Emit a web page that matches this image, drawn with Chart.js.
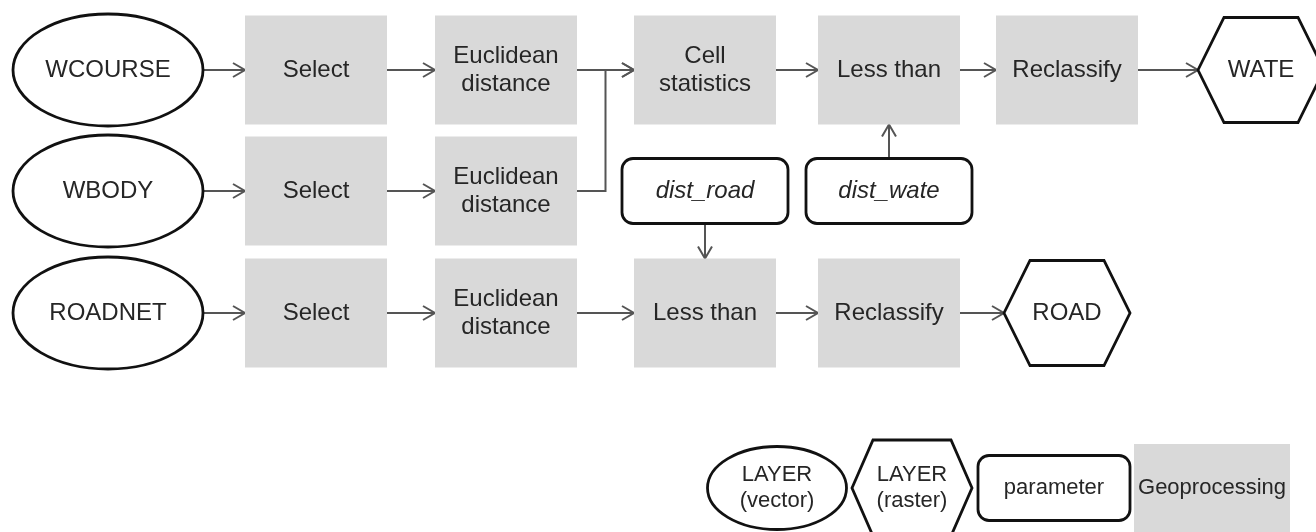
<!DOCTYPE html>
<html>
<head>
<meta charset="utf-8">
<script src="https://cdn.jsdelivr.net/npm/chart.js@4.4.1/dist/chart.umd.min.js"></script>
<style>
    html, body { margin: 0; padding: 0; background: #ffffff; }
    #wrap { width: 1316px; height: 532px; }
</style>
</head>
<body>
<div id="wrap"><canvas id="flowChart" width="1316" height="532"></canvas></div>
<script>
// Nodes of the workflow (row by row)
const nodeLabels = [
    "WCOURSE", "Select", "Euclidean\ndistance", "Cell\nstatistics", "Less than", "Reclassify", "WATE",
    "WBODY", "Select", "Euclidean\ndistance", "dist_road", "dist_wate",
    "ROADNET", "Select", "Euclidean\ndistance", "Less than", "Reclassify", "ROAD"
];
const nodeKinds = [
    "vector", "tool", "tool", "tool", "tool", "tool", "raster",
    "vector", "tool", "tool", "param", "param",
    "vector", "tool", "tool", "tool", "tool", "raster"
];
const nodeCols = [0, 1, 2, 3, 4, 5, 6,  0, 1, 2, 3, 4,  0, 1, 2, 3, 4, 5];
const nodeRows = [0, 0, 0, 0, 0, 0, 0,  1, 1, 1, 1, 1,  2, 2, 2, 2, 2, 2];

// Connections (index of source node -> index of target node)
const edgeFrom = [0, 1, 2, 3, 4, 5,  7, 8, 9, 11,  12, 13, 14, 10, 15, 16];
const edgeTo   = [1, 2, 3, 4, 5, 6,  8, 9, 3, 4,   13, 14, 15, 15, 16, 17];

// Key
const legendLabels = ["LAYER\n(vector)", "LAYER\n(raster)", "parameter", "Geoprocessing"];
const legendKinds = ["vectorKey", "rasterKey", "paramKey", "toolKey"];

// Layout (diagram units = scale values)
const colCenters = [108, 316, 506, 705, 889, 1067, 1261];
const rowCenters = [70, 191, 313];
const legendCenters = [777, 912, 1054, 1212];
const legendRow = 488;

const FONT = '"Liberation Sans", "Helvetica Neue", Arial, sans-serif';
const kindStyle = {
    vector:    { shape: "ellipse", w: 190, h: 112, size: 24 },
    tool:      { shape: "rect",    w: 142, h: 109, size: 24 },
    raster:    { shape: "hex",     w: 126, h: 105, inset: 26, size: 24 },
    param:     { shape: "round",   w: 166, h: 65,  r: 11, size: 24, italic: true },
    vectorKey: { shape: "ellipse", w: 139, h: 83,  size: 22 },
    rasterKey: { shape: "hex",     w: 120, h: 96,  inset: 21, size: 22 },
    paramKey:  { shape: "round",   w: 152, h: 65,  r: 11, size: 22 },
    toolKey:   { shape: "rect",    w: 156, h: 88,  size: 22 }
};

function nodeCenter(i) {
    return { x: colCenters[nodeCols[i]], y: rowCenters[nodeRows[i]] };
}

function nodeSize(i) {
    const s = kindStyle[nodeKinds[i]];
    return { w: s.w, h: s.h };
}

// Route a connection between two nodes
function edgePath(a, b) {
    const p = nodeCenter(a), q = nodeCenter(b);
    const sa = nodeSize(a), sb = nodeSize(b);
    if (nodeRows[a] === nodeRows[b]) {
        return [{ x: p.x + sa.w / 2, y: p.y }, { x: q.x - sb.w / 2, y: q.y }];
    }
    if (nodeCols[a] === nodeCols[b]) {
        const down = q.y > p.y;
        return [
            { x: p.x, y: p.y + (down ? sa.h / 2 : -sa.h / 2) },
            { x: p.x, y: q.y + (down ? -sb.h / 2 : sb.h / 2) }
        ];
    }
    const x0 = p.x + sa.w / 2, x1 = q.x - sb.w / 2, xm = (x0 + x1) / 2;
    return [{ x: x0, y: p.y }, { x: xm, y: p.y }, { x: xm, y: q.y }, { x: x1, y: q.y }];
}

const edgeDatasets = edgeFrom.map((a, k) => ({
    type: "line",
    label: "edge" + k,
    data: edgePath(a, edgeTo[k]),
    borderColor: "#555555",
    borderWidth: 2,
    pointRadius: 0,
    fill: false,
    tension: 0,
    isEdge: true
}));

const nodeDataset = {
    type: "scatter",
    label: "nodes",
    data: nodeLabels.map((_, i) => nodeCenter(i)),
    pointRadius: 0,
    nodeLabels: nodeLabels,
    nodeKinds: nodeKinds
};

const legendDataset = {
    type: "scatter",
    label: "key",
    data: legendLabels.map((_, i) => ({ x: legendCenters[i], y: legendRow })),
    pointRadius: 0,
    nodeLabels: legendLabels,
    nodeKinds: legendKinds
};

function drawShape(ctx, st, cx, cy, w, h) {
    ctx.save();
    ctx.lineWidth = 2.8;
    ctx.strokeStyle = "#111111";
    ctx.fillStyle = "#ffffff";
    ctx.beginPath();
    if (st.shape === "rect") {
        ctx.fillStyle = "#d9d9d9";
        ctx.fillRect(cx - w / 2, cy - h / 2, w, h);
        ctx.restore();
        return;
    } else if (st.shape === "ellipse") {
        ctx.ellipse(cx, cy, w / 2, h / 2, 0, 0, Math.PI * 2);
    } else if (st.shape === "hex") {
        const d = st.inset;
        ctx.moveTo(cx - w / 2, cy);
        ctx.lineTo(cx - w / 2 + d, cy - h / 2);
        ctx.lineTo(cx + w / 2 - d, cy - h / 2);
        ctx.lineTo(cx + w / 2, cy);
        ctx.lineTo(cx + w / 2 - d, cy + h / 2);
        ctx.lineTo(cx - w / 2 + d, cy + h / 2);
        ctx.closePath();
    } else if (st.shape === "round") {
        ctx.roundRect(cx - w / 2, cy - h / 2, w, h, st.r);
    }
    ctx.fill();
    ctx.stroke();
    ctx.restore();
}

function drawLabel(ctx, st, text, cx, cy) {
    const lines = text.split("\n");
    const lh = st.size * 1.17;
    ctx.save();
    ctx.fillStyle = "#262626";
    ctx.font = (st.italic ? "italic " : "") + st.size + "px " + FONT;
    ctx.textAlign = "center";
    ctx.textBaseline = "middle";
    lines.forEach((ln, j) => {
        ctx.fillText(ln, cx, cy + (j - (lines.length - 1) / 2) * lh);
    });
    ctx.restore();
}

// Draws arrow heads and node shapes on top of the library's points
const flowPlugin = {
    id: "flowShapes",
    afterDatasetsDraw(chart) {
        const ctx = chart.ctx;
        const xs = chart.scales.x, ys = chart.scales.y;

        chart.data.datasets.forEach((ds, di) => {
            const meta = chart.getDatasetMeta(di);
            if (ds.isEdge) {
                const pts = meta.data;
                const a = pts[pts.length - 2], b = pts[pts.length - 1];
                const ang = Math.atan2(b.y - a.y, b.x - a.x);
                const len = 12, half = 7;
                ctx.save();
                ctx.strokeStyle = "#555555";
                ctx.lineWidth = 2;
                ctx.lineJoin = "miter";
                ctx.beginPath();
                ctx.moveTo(b.x - len * Math.cos(ang) + half * Math.sin(ang), b.y - len * Math.sin(ang) - half * Math.cos(ang));
                ctx.lineTo(b.x, b.y);
                ctx.lineTo(b.x - len * Math.cos(ang) - half * Math.sin(ang), b.y - len * Math.sin(ang) + half * Math.cos(ang));
                ctx.stroke();
                ctx.restore();
            }
        });

        chart.data.datasets.forEach((ds, di) => {
            if (!ds.nodeKinds) return;
            const meta = chart.getDatasetMeta(di);
            meta.data.forEach((pt, i) => {
                const st = kindStyle[ds.nodeKinds[i]];
                const v = ds.data[i];
                const w = xs.getPixelForValue(v.x + st.w / 2) - xs.getPixelForValue(v.x - st.w / 2);
                const h = Math.abs(ys.getPixelForValue(v.y + st.h / 2) - ys.getPixelForValue(v.y - st.h / 2));
                drawShape(ctx, st, pt.x, pt.y, w, h);
                drawLabel(ctx, st, ds.nodeLabels[i], pt.x, pt.y);
            });
        });
    }
};

new Chart(document.getElementById("flowChart"), {
    type: "scatter",
    data: { datasets: [...edgeDatasets, nodeDataset, legendDataset] },
    options: {
        responsive: false,
        animation: false,
        events: [],
        layout: { padding: 0 },
        scales: {
            x: { type: "linear", min: 0, max: 1316, display: false },
            y: { type: "linear", min: 0, max: 532, reverse: true, display: false }
        },
        plugins: {
            legend: { display: false },
            tooltip: { enabled: false }
        }
    },
    plugins: [flowPlugin]
});
</script>
</body>
</html>
